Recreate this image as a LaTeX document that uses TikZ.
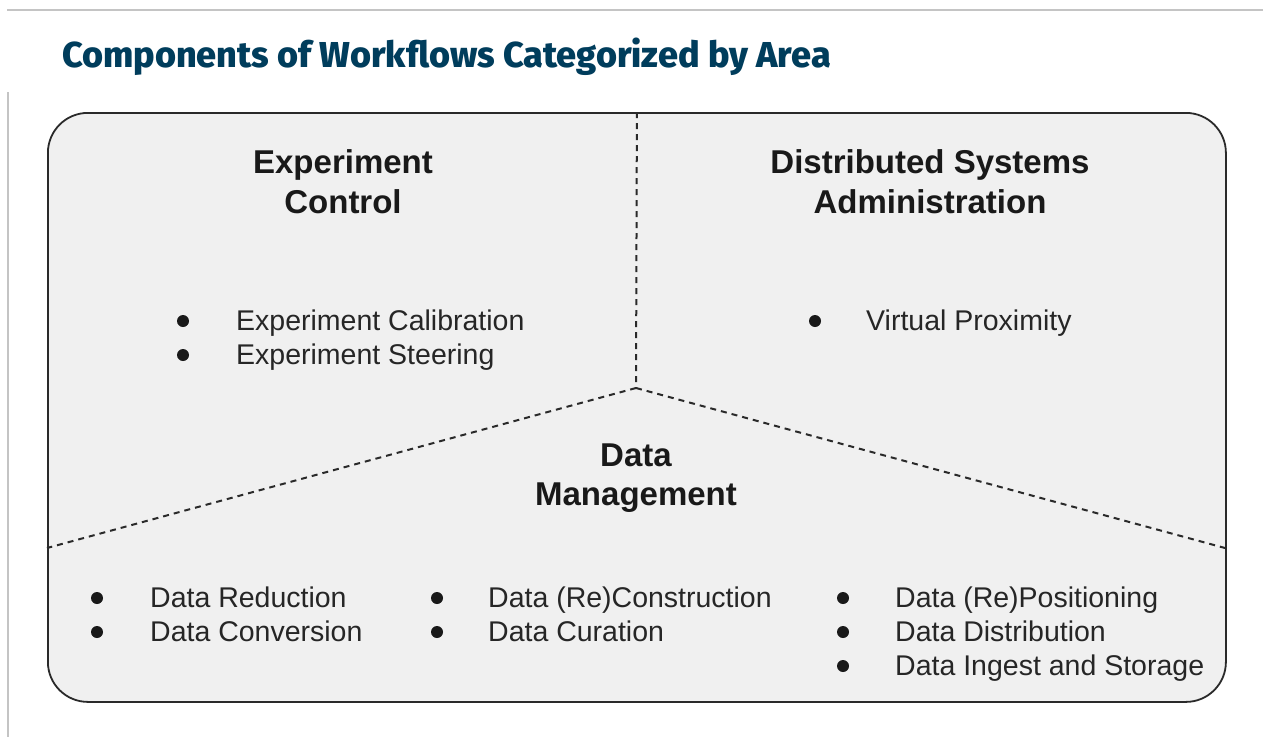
\documentclass[tikz,border=0pt]{standalone}
\usepackage{fontspec}
\setmainfont{Liberation Sans}
\newfontfamily\titlefont{Fira Sans}[BoldFont={Fira Sans ExtraBold}]
\definecolor{titleblue}{HTML}{003D5C}
\definecolor{boxfill}{HTML}{F0F0F0}
\definecolor{edge}{HTML}{2A2A2A}
\definecolor{frameline}{HTML}{C4C4C4}
\begin{document}
\begin{tikzpicture}[x=1pt,y=-1pt,
  frame/.style={draw=frameline, line width=2pt},
  areabox/.style={draw=edge, fill=boxfill, line width=1.8pt, rounded corners=40pt, inner sep=0pt},
  divider/.style={draw=edge, line width=2pt, dash pattern=on 6pt off 5pt},
  head/.style={font=\fontsize{33}{40}\selectfont\bfseries, text=black!90, inner sep=0pt, anchor=base},
  item/.style={font=\fontsize{28.5}{34}\selectfont, text=black!85, inner sep=0pt, anchor=base west},
  dot/.style={circle, fill=black!90, inner sep=0pt, minimum size=12pt},
  titletext/.style={font=\titlefont\bfseries\fontsize{36}{40}\selectfont, text=titleblue, inner sep=0pt, anchor=base west}
]
\useasboundingbox[fill=white] (0,0) rectangle (1263,737);
% outer frame lines
\coordinate (ftl) at (7,10);
\coordinate (ftr) at (1263,10);
\coordinate (fl1) at (8,92);
\coordinate (fl2) at (8,737);
\draw[frame] (ftl) -- (ftr);
\draw[frame] (fl1) -- (fl2);
% title
\node[titletext] (title) at (62,67) {Components of Workflows Categorized by Area};
% main box
\node[areabox, minimum width=1178pt, minimum height=589pt, anchor=north west] (box) at (47,112) {};
% dividers
\coordinate (hub) at (636,388);
\coordinate (lft) at (47,548);
\coordinate (rgt) at (1225,548);
\draw[divider] (box.north) -- (hub);
\draw[divider] (hub) -- (lft);
\draw[divider] (hub) -- (rgt);
% headings
\node[head] (ec1) at (343,173) {Experiment};
\node[head] (ec2) at (343,213) {Control};
\node[head] (ds1) at (930,173) {Distributed Systems};
\node[head] (ds2) at (930,213) {Administration};
\node[head] (dm1) at (636,466) {Data};
\node[head] (dm2) at (636,505) {Management};
% experiment control items
\node[dot] (b1) at (183,321) {};
\node[item] (t1) at (236,330) {Experiment Calibration};
\node[dot] (b2) at (183,355) {};
\node[item] (t2) at (236,364) {Experiment Steering};
% distributed systems items
\node[dot] (b3) at (815,321) {};
\node[item] (t3) at (866,330) {Virtual Proximity};
% data management items
\node[dot] (b4) at (97,598) {};
\node[item] (t4) at (150,607) {Data Reduction};
\node[dot] (b5) at (97,632) {};
\node[item] (t5) at (150,641) {Data Conversion};
\node[dot] (b6) at (437,598) {};
\node[item] (t6) at (488,607) {Data (Re)Construction};
\node[dot] (b7) at (437,632) {};
\node[item] (t7) at (488,641) {Data Curation};
\node[dot] (b8) at (843,598) {};
\node[item] (t8) at (895,607) {Data (Re)Positioning};
\node[dot] (b9) at (843,632) {};
\node[item] (t9) at (895,641) {Data Distribution};
\node[dot] (b10) at (843,666) {};
\node[item] (t10) at (895,675) {Data Ingest and Storage};
\end{tikzpicture}
\end{document}
